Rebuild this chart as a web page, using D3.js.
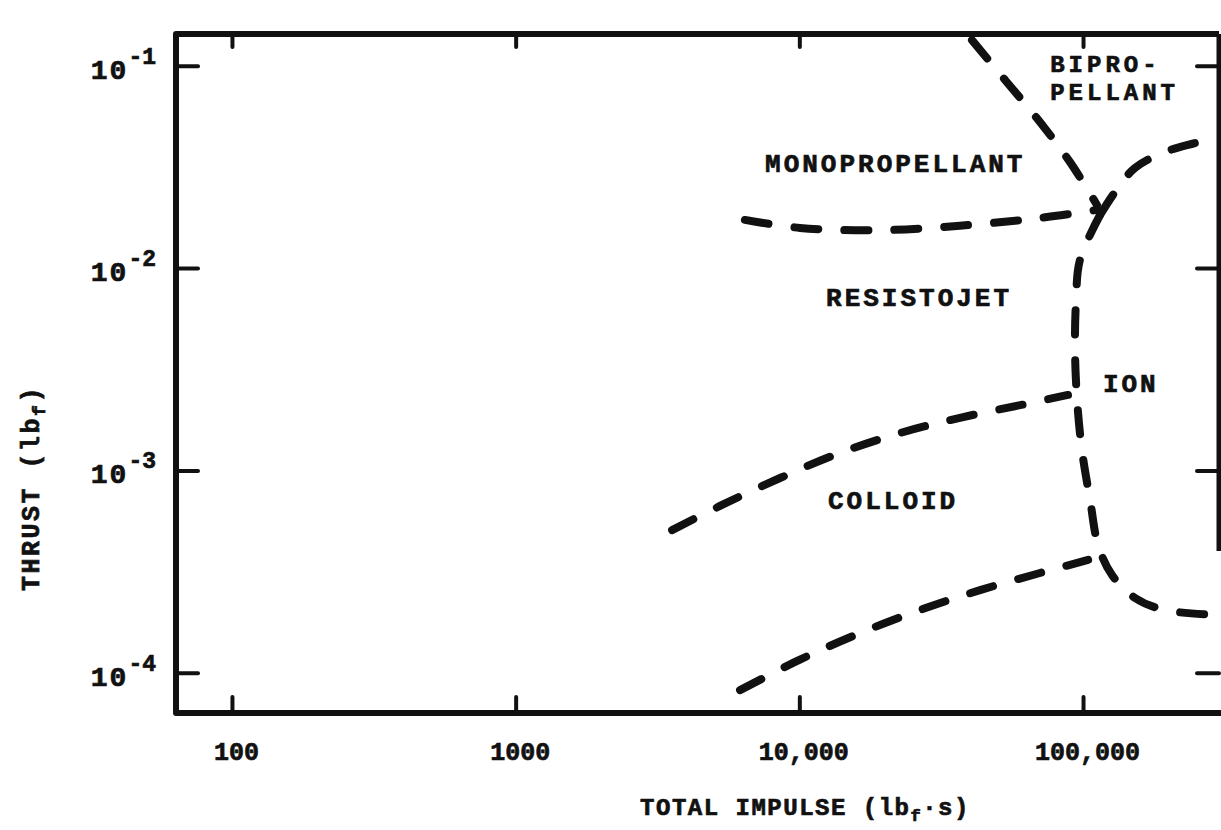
<!DOCTYPE html>
<html>
<head>
<meta charset="utf-8">
<script src="https://cdn.jsdelivr.net/npm/d3@7"></script>
<style>
  html, body { margin: 0; padding: 0; background: #fff; }
  svg { display: block; }
  text { font-family: "Liberation Mono", "DejaVu Sans Mono", monospace; font-weight: bold; fill: #111;
         stroke: #111; stroke-width: 0.7px; }
</style>
</head>
<body>
<svg id="chart" width="1221" height="830"></svg>
<script>
// Total impulse (lbf·s) vs thrust (lbf) regions of applicability for propulsion types.
const xTicks = [100, 1000, 10000, 100000];
const xTickLabels = ["100", "1000", "10,000", "100,000"];
const yTicks = [1e-1, 1e-2, 1e-3, 1e-4];
const yTickExponents = ["-1", "-2", "-3", "-4"];

// Boundary curves: [total impulse, thrust]
const bipropUpper = [[40600, 0.134], [53100, 0.0851], [70500, 0.0527], [90000, 0.0334], [112000, 0.0205]];
const monoResisto = [[6430, 0.0173], [10050, 0.0158], [19250, 0.0154], [36800, 0.0162], [70500, 0.0177], [112000, 0.0194]];
const bipropLower = [[114800, 0.0183], [129700, 0.0238], [152500, 0.0313], [194500, 0.0375], [248300, 0.0415], [299000, 0.0445]];
const ionBoundary = [[114800, 0.0183], [97500, 0.01096], [94500, 0.00695], [93700, 0.00394], [95300, 0.00223],
                     [99100, 0.00126], [105900, 0.000714], [113000, 0.000428], [126500, 0.000304],
                     [152500, 0.000234], [194500, 0.000204], [299000, 0.000193]];
const colloidUpper = [[3560, 0.000507], [5250, 0.000667], [8550, 0.000917], [13900, 0.00122], [22640, 0.00153],
                      [36800, 0.00182], [60000, 0.0021], [88500, 0.00236]];
const colloidLower = [[6180, 0.000082], [10050, 0.000116], [16370, 0.000157], [26600, 0.000204], [43350, 0.000256],
                      [70500, 0.000311], [104200, 0.000361]];
const boundaries = [bipropUpper, monoResisto, bipropLower, ionBoundary, colloidUpper, colloidLower];

// Region names and the point (impulse, thrust) where each one starts
const regionNames = ["BIPRO-", "PELLANT", "MONOPROPELLANT", "RESISTOJET", "ION", "COLLOID"];
const regionAt = [[76600, 0.0937], [76600, 0.0675], [7570, 0.0300], [12420, 0.00646], [117500, 0.00244], [12620, 0.000648]];

const svg = d3.select("#chart");
const plotLeft = 176, plotRight = 1219, plotTop = 34, plotBottom = 713;

const x = d3.scaleLog().domain([63.5, 301500]).range([plotLeft, plotRight]);
const y = d3.scaleLog().domain([0.1436, 6.32e-5]).range([plotTop, plotBottom]);

// Axes with inward ticks
function styleAxis(g) {
  g.select(".domain").remove();
  g.selectAll(".tick line").attr("stroke", "#111").attr("stroke-width", 4).attr("stroke-linecap", "round");
}

const xBottom = svg.append("g").attr("transform", `translate(0,${plotBottom})`)
  .call(d3.axisBottom(x).tickValues(xTicks).tickFormat((d, i) => xTickLabels[i])
    .tickSizeInner(-16).tickSizeOuter(0).tickPadding(29));
styleAxis(xBottom);
xBottom.selectAll(".tick text").attr("font-size", 25).attr("fill", "#111")
  .attr("font-family", "Liberation Mono").attr("font-weight", "bold").attr("dx", 4);

const xTopAxis = svg.append("g").attr("transform", `translate(0,${plotTop})`)
  .call(d3.axisTop(x).tickValues(xTicks).tickFormat("").tickSizeInner(-13).tickSizeOuter(0));
styleAxis(xTopAxis);

const yLeft = svg.append("g").attr("transform", `translate(${plotLeft},0)`)
  .call(d3.axisLeft(y).tickValues(yTicks).tickFormat("").tickSizeInner(-22).tickSizeOuter(0));
styleAxis(yLeft);

const yRight = svg.append("g").attr("transform", `translate(${plotRight},0)`)
  .call(d3.axisRight(y).tickValues(yTicks).tickFormat("").tickSizeInner(-22).tickSizeOuter(0));
styleAxis(yRight);

// Powers of ten on the thrust axis
yTicks.forEach((v, i) => {
  const t = svg.append("text").attr("x", 156).attr("y", y(v) + 13).attr("text-anchor", "end");
  t.append("tspan").attr("font-size", 28).attr("letter-spacing", 2).text("10");
  t.append("tspan").attr("font-size", 23).attr("dy", -15).text(yTickExponents[i]);
});

// Frame
svg.append("path")
  .attr("d", `M${plotRight},${plotTop} L${plotLeft},${plotTop} L${plotLeft},${plotBottom} L${plotRight + 3},${plotBottom}`)
  .attr("fill", "none").attr("stroke", "#111").attr("stroke-width", 6).attr("stroke-linejoin", "round");
svg.append("line")
  .attr("x1", plotRight).attr("x2", plotRight).attr("y1", plotTop).attr("y2", y(4e-4))
  .attr("stroke", "#111").attr("stroke-width", 5);

// Dashed boundaries between regions
const line = d3.line().x(d => x(d[0])).y(d => y(d[1])).curve(d3.curveCatmullRom.alpha(0.5));
svg.append("g").selectAll("path").data(boundaries).join("path")
  .attr("d", line)
  .attr("fill", "none").attr("stroke", "#111").attr("stroke-width", 8)
  .attr("stroke-linecap", "round").attr("stroke-dasharray", "24 26");

// Region names
svg.append("g").selectAll("text").data(regionNames).join("text")
  .attr("x", (d, i) => x(regionAt[i][0]))
  .attr("y", (d, i) => y(regionAt[i][1]))
  .attr("font-size", (d, i) => i < 2 ? 24 : 26)
  .attr("letter-spacing", (d, i) => i < 2 ? 4 : 3)
  .text(d => d);

// Axis titles
const xt = svg.append("text").attr("x", 805).attr("y", 815).attr("text-anchor", "middle")
  .attr("font-size", 24).attr("letter-spacing", 1.5);
xt.append("tspan").text("TOTAL IMPULSE (lb");
xt.append("tspan").attr("font-size", 17).attr("dy", 6).text("f");
xt.append("tspan").attr("dy", -6).text("·s)");

const yt = svg.append("text").attr("transform", "translate(39,488) rotate(-90)").attr("text-anchor", "middle")
  .attr("font-size", 25).attr("letter-spacing", 2.5);
yt.append("tspan").text("THRUST (lb");
yt.append("tspan").attr("font-size", 18).attr("dy", 6).text("f");
yt.append("tspan").attr("dy", -6).text(")");
</script>
</body>
</html>
